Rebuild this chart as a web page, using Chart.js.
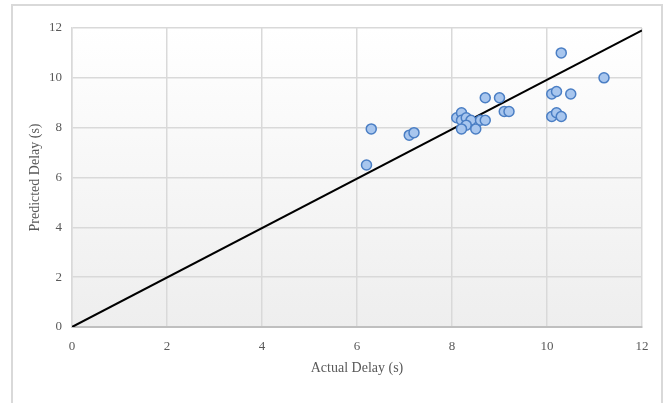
<!DOCTYPE html>
<html>
<head>
<meta charset="utf-8">
<script src="https://cdn.jsdelivr.net/npm/chart.js@4/dist/chart.umd.min.js"></script>
<style>
  html, body { margin: 0; padding: 0; background: #fff; }
  #wrap { position: relative; width: 669px; height: 403px; overflow: hidden; }
  #frame { position: absolute; left: 11px; top: 4px; width: 652px; height: 420px;
           border: 2px solid #d9d9d9; box-sizing: border-box; }
  canvas { position: absolute; left: 0; top: 0; }
</style>
</head>
<body>
<div id="wrap">
  <div id="frame"></div>
  <canvas id="grafico" width="669" height="403"></canvas>
</div>
<script>
// valores
const actualDelay    = [6.2, 6.3, 7.1, 7.2, 8.1, 8.2, 8.2, 8.3, 8.4, 8.3, 8.2, 8.5, 8.6, 8.7, 8.7, 9.0, 9.1, 9.2, 10.1, 10.2, 10.3, 10.1, 10.2, 10.5, 10.3, 11.2];
const predictedDelay = [6.5, 7.95, 7.7, 7.8, 8.4, 8.6, 8.3, 8.4, 8.3, 8.1, 7.95, 7.95, 8.3, 8.3, 9.2, 9.2, 8.65, 8.65, 8.45, 8.6, 8.45, 9.35, 9.45, 9.35, 11.0, 10.0];
const lineX = [0, 12];
const lineY = [0, 11.9];
const xTitle = 'Actual Delay (s)';
const yTitle = 'Predicted Delay (s)';

const fonte = 'Liberation Serif';

// fundo em degrade da area do grafico
const fundoPlot = {
  id: 'fundoPlot',
  beforeDraw(chart) {
    const { ctx, chartArea: a } = chart;
    const g = ctx.createLinearGradient(0, a.top, 0, a.bottom);
    g.addColorStop(0, '#ffffff');
    g.addColorStop(1, '#eeeeee');
    ctx.save();
    ctx.fillStyle = g;
    ctx.fillRect(a.left, a.top, a.right - a.left, a.bottom - a.top);
    ctx.restore();
  }
};

const ctx = document.getElementById('grafico').getContext('2d');
const pontoFill = ctx.createRadialGradient(0, 0, 0, 0, 0, 1);

new Chart(ctx, {
  type: 'scatter',
  data: {
    datasets: [
      {
        data: lineX.map((x, i) => ({ x, y: lineY[i] })),
        showLine: true,
        borderColor: '#000000',
        borderWidth: 2,
        pointRadius: 0,
        order: 2
      },
      {
        data: actualDelay.map((x, i) => ({ x, y: predictedDelay[i] })),
        backgroundColor: '#a8c6ee',
        borderColor: '#4a7ec4',
        borderWidth: 1.5,
        pointRadius: 5,
        order: 1
      }
    ]
  },
  options: {
    responsive: false,
    animation: false,
    layout: { padding: { left: 0, top: 28, right: 27, bottom: 0 } },
    plugins: { legend: { display: false }, tooltip: { enabled: false } },
    scales: {
      x: {
        type: 'linear', min: 0, max: 12,
        ticks: { stepSize: 2, color: '#595959', padding: 12, font: { family: fonte, size: 13 } },
        grid: { color: '#d9d9d9', lineWidth: 1.5, drawTicks: false },
        border: { color: '#bfbfbf', width: 2 },
        title: { display: true, text: xTitle, color: '#595959', padding: { bottom: 26 }, font: { family: fonte, size: 14 } },
        afterFit(s) { s.height = 76; }
      },
      y: {
        type: 'linear', min: 0, max: 12,
        ticks: { stepSize: 2, color: '#595959', padding: 10, font: { family: fonte, size: 13 } },
        grid: { color: '#d9d9d9', lineWidth: 1.5, drawTicks: false },
        border: { color: '#d9d9d9', width: 1.5 },
        title: { display: true, text: yTitle, color: '#595959', padding: { top: 27 }, font: { family: fonte, size: 14 } },
        afterFit(s) { s.width = 72; }
      }
    }
  },
  plugins: [fundoPlot]
});
</script>
</body>
</html>
